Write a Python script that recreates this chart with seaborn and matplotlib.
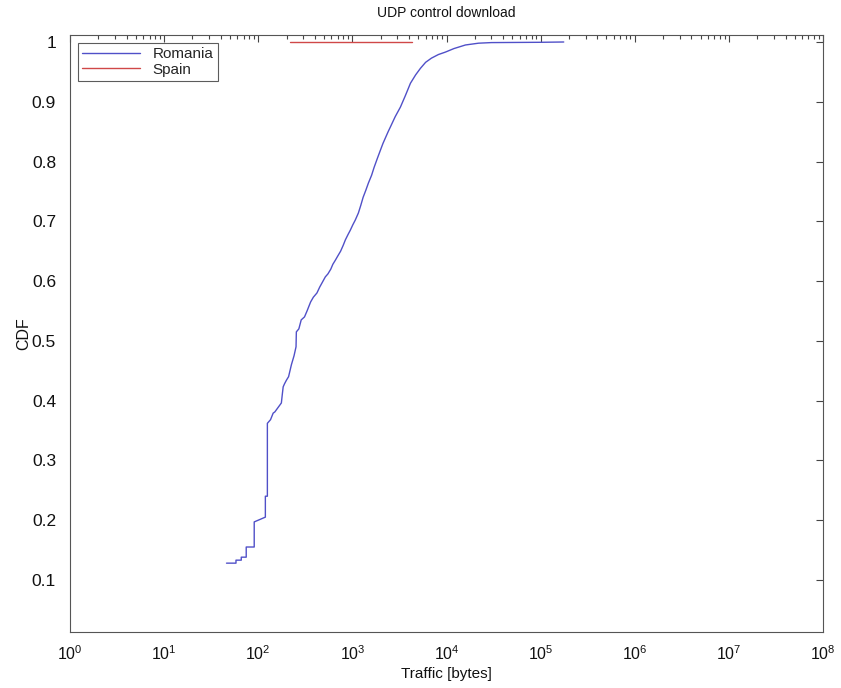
import matplotlib
matplotlib.use("Agg")
import matplotlib.pyplot as plt
import seaborn as sns
import pandas as pd
import numpy as np
from matplotlib.ticker import LogLocator, FixedLocator, NullFormatter

sns.set_theme(style="white")
plt.rcParams['font.family'] = ['Liberation Sans', 'DejaVu Sans']

title = "UDP control download"
xlabel = "Traffic [bytes]"
ylabel = "CDF"

# CDF curve (corners of the staircase in the lower part)
romania_x = [46, 58, 58, 66, 66, 74.5, 74.5, 90.6, 90.6, 119, 119, 125, 125, 135, 144, 150,
             176, 180, 184, 190, 199, 210, 225, 240, 252, 254, 270, 286, 310, 330, 360, 385,
             420, 450, 480, 516, 550, 590, 620, 660, 700, 750, 800, 843, 900, 950, 1010, 1073,
             1159, 1230, 1300, 1390, 1480, 1600, 1700, 1840, 1986, 2110, 2250, 2400, 2537,
             2850, 3237, 3650, 4140, 4700, 5290, 6000, 6920, 8200, 9700, 12000, 15900, 21900,
             30000, 100000, 176000]
romania_y = [0.128, 0.128, 0.133, 0.133, 0.138, 0.138, 0.155, 0.155, 0.197, 0.205, 0.24, 0.24,
             0.362, 0.368, 0.379, 0.381, 0.396, 0.41, 0.423, 0.428, 0.434, 0.44, 0.46, 0.475,
             0.49, 0.515, 0.52, 0.535, 0.54, 0.55, 0.565, 0.573, 0.58, 0.59, 0.598, 0.607,
             0.612, 0.62, 0.628, 0.635, 0.642, 0.65, 0.66, 0.669, 0.678, 0.685, 0.694, 0.702,
             0.714, 0.727, 0.74, 0.752, 0.764, 0.777, 0.79, 0.805, 0.819, 0.83, 0.84, 0.85,
             0.858, 0.875, 0.891, 0.91, 0.931, 0.945, 0.956, 0.966, 0.973, 0.979, 0.983,
             0.989, 0.995, 0.998, 0.999, 0.9995, 1.0]
spain_x = [219, 4250]
spain_y = [1.0, 1.0]

df = pd.concat([
    pd.DataFrame({"x": romania_x, "y": romania_y, "country": "Romania"}),
    pd.DataFrame({"x": spain_x, "y": spain_y, "country": "Spain"}),
])

fig = plt.figure(figsize=(8.41, 6.88), dpi=100)
ax = fig.add_axes([70/841, 1-632/688, (823-70)/841, (632-35)/688])

palette = {"Romania": "#5050c8", "Spain": "#d04848"}
sns.lineplot(data=df, x="x", y="y", hue="country", palette=palette, ax=ax,
             linewidth=1.0, estimator=None, sort=False)

ax.set_xscale("log")
ax.set_xlim(1, 1e8)
ax.set_ylim(0.0128, 1.0117)
ax.set_yticks([0.1, 0.2, 0.3, 0.4, 0.5, 0.6, 0.7, 0.8, 0.9, 1.0])
ax.set_yticklabels(["0.1", "0.2", "0.3", "0.4", "0.5", "0.6", "0.7", "0.8", "0.9", "1"])
ax.xaxis.set_major_locator(FixedLocator([10.0**k for k in range(9)]))
ax.xaxis.set_minor_locator(LogLocator(base=10, subs=np.arange(2, 10), numticks=100))
ax.xaxis.set_minor_formatter(NullFormatter())

ax.tick_params(axis="both", which="both", direction="in", top=True, right=True,
               color="#444444", labelcolor="#111111")
ax.tick_params(which="major", length=5, width=0.8)
ax.tick_params(which="minor", length=3, width=0.8)
ax.tick_params(axis="x", pad=9, labelsize=11.5)
ax.tick_params(axis="y", pad=10, labelsize=12.5)
for s in ax.spines.values():
    s.set_color("#555555")
    s.set_linewidth(0.8)

ax.set_title(title, fontsize=10, color="#111111", pad=13)
ax.set_xlabel(xlabel, fontsize=11, color="#111111", labelpad=3)
ax.set_ylabel(ylabel, fontsize=11.5, color="#111111")
ax.yaxis.set_label_coords(-0.052, 0.5)

leg = ax.legend(loc="upper left", fontsize=11, frameon=True, fancybox=False,
                handlelength=3.8, borderaxespad=0.5, borderpad=0.3, labelspacing=0.1)
leg.get_frame().set_edgecolor("#333333")
leg.get_frame().set_linewidth(0.8)
leg.set_title(None)

fig.savefig("out.png", dpi=100, facecolor="white")
